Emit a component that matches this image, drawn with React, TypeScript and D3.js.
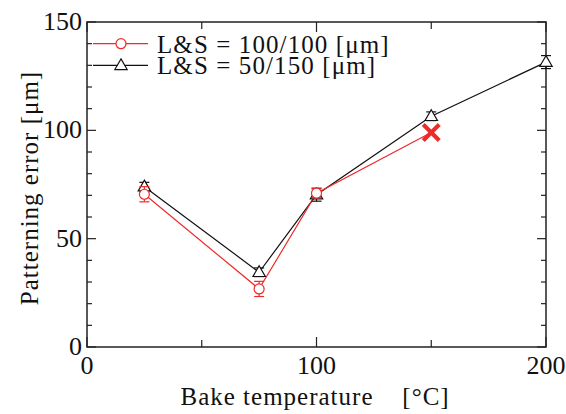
import React from "react";
import * as d3 from "d3";

const redX = [25, 75, 100];
const redY = [70.5, 26.8, 71];
const redErr = [3.5, 3.5, 2];
const redCross = { x: 150, y: 99 };
const blackX = [25, 75, 100, 150, 200];
const blackY = [74, 34.5, 70.3, 106.5, 131.5];
const blackErr = [2, 2, 3, 2, 3];
const xTicks = [0, 100, 200];
const xMinor = [50, 150];
const yTicks = [0, 50, 100, 150];
const yMinor = d3.range(0, 151, 10);
const legendLabels = ["L&S = 100/100 [\u03bcm]", "L&S = 50/150 [\u03bcm]"];

const W = 566, H = 414;
const L = 87, R = 546, T = 22, B = 347;
const RED = "#ee2b2b";
const FONT = "'Liberation Serif', 'Times New Roman', serif";
const FS = 25;

export default function App() {
  const x = d3.scaleLinear().domain([0, 200]).range([L, R]);
  const y = d3.scaleLinear().domain([0, 150]).range([B, T]);
  const line = d3.line<[number, number]>().x(d => x(d[0])).y(d => y(d[1]));
  const redPts: [number, number][] = redX.map((v, i) => [v, redY[i]] as [number, number]).concat([[redCross.x, redCross.y]]);
  const blackPts: [number, number][] = blackX.map((v, i) => [v, blackY[i]] as [number, number]);
  const tri = (cx: number, cy: number, s = 6.5) =>
    `M${cx},${cy - s}L${cx + s * 0.95},${cy + s * 0.65}L${cx - s * 0.95},${cy + s * 0.65}Z`;
  const axisColor = "#222";
  return (
    <svg width={W} height={H} style={{ position: "fixed", left: 0, top: 0, display: "block", background: "#fff" }} fontFamily={FONT}>
      <rect x={L} y={T} width={R - L} height={B - T} fill="none" stroke={axisColor} strokeWidth={1.5} />
      {yMinor.map(v => {
        const major = v % 50 === 0;
        const len = major ? 9 : 5;
        return (
          <g key={"y" + v}>
            <line x1={L} x2={L + len} y1={y(v)} y2={y(v)} stroke={axisColor} strokeWidth={1.2} />
            <line x1={R} x2={R - len} y1={y(v)} y2={y(v)} stroke={axisColor} strokeWidth={1.2} />
          </g>
        );
      })}
      {xTicks.concat(xMinor).map(v => {
        const major = v % 100 === 0;
        const len = major ? 10 : 7;
        return (
          <g key={"x" + v}>
            <line x1={x(v)} x2={x(v)} y1={B} y2={B - len} stroke={axisColor} strokeWidth={1.2} />
            <line x1={x(v)} x2={x(v)} y1={T} y2={T + len} stroke={axisColor} strokeWidth={1.2} />
          </g>
        );
      })}
      {yTicks.map(v => (
        <text key={"yl" + v} x={L - 5} y={y(v) + 8} textAnchor="end" fontSize={FS + 1} fill="#111">{v}</text>
      ))}
      {xTicks.map(v => (
        <text key={"xl" + v} x={x(v)} y={B + 27} textAnchor="middle" fontSize={FS + 1} fill="#111">{v}</text>
      ))}
      <text x={277} y={405} textAnchor="middle" fontSize={FS} letterSpacing={1} fill="#111">Bake temperature</text>
      <text x={426} y={405} textAnchor="middle" fontSize={FS} letterSpacing={1} fill="#111">[°C]</text>
      <text transform={`translate(38,188) rotate(-90)`} textAnchor="middle" fontSize={FS} letterSpacing={1} fill="#111">
        Patterning error [μm]
      </text>
      <path d={line(blackPts) || ""} fill="none" stroke="#111" strokeWidth={1.2} />
      <path d={line(redPts) || ""} fill="none" stroke={RED} strokeWidth={1.2} />
      {blackPts.map((p, i) => (
        <g key={"be" + i} stroke="#111" strokeWidth={1.2}>
          <line x1={x(p[0])} x2={x(p[0])} y1={y(p[1] - blackErr[i])} y2={y(p[1] + blackErr[i])} />
          <line x1={x(p[0]) - 5} x2={x(p[0]) + 5} y1={y(p[1] - blackErr[i])} y2={y(p[1] - blackErr[i])} />
          <line x1={x(p[0]) - 5} x2={x(p[0]) + 5} y1={y(p[1] + blackErr[i])} y2={y(p[1] + blackErr[i])} />
        </g>
      ))}
      {blackPts.map((p, i) => (
        <path key={"bt" + i} d={tri(x(p[0]), y(p[1]))} fill="#fff" stroke="#111" strokeWidth={1.2} />
      ))}
      {redX.map((v, i) => (
        <g key={"re" + i} stroke={RED} strokeWidth={1.2}>
          <line x1={x(v)} x2={x(v)} y1={y(redY[i] - redErr[i])} y2={y(redY[i] + redErr[i])} />
          <line x1={x(v) - 5} x2={x(v) + 5} y1={y(redY[i] - redErr[i])} y2={y(redY[i] - redErr[i])} />
          <line x1={x(v) - 5} x2={x(v) + 5} y1={y(redY[i] + redErr[i])} y2={y(redY[i] + redErr[i])} />
        </g>
      ))}
      {redX.map((v, i) => (
        <circle key={"rc" + i} cx={x(v)} cy={y(redY[i])} r={5} fill="#fff" stroke={RED} strokeWidth={1.2} />
      ))}
      <g stroke={RED} strokeWidth={4}>
        <line x1={x(redCross.x) - 8} x2={x(redCross.x) + 8} y1={y(redCross.y) - 8} y2={y(redCross.y) + 8} />
        <line x1={x(redCross.x) - 8} x2={x(redCross.x) + 8} y1={y(redCross.y) + 8} y2={y(redCross.y) - 8} />
      </g>
      <g>
        <line x1={93} x2={148} y1={y(140)} y2={y(140)} stroke={RED} strokeWidth={1.2} />
        <circle cx={121} cy={y(140)} r={5} fill="#fff" stroke={RED} strokeWidth={1.2} />
        <text x={157} y={y(140) + 9} fontSize={FS} letterSpacing={1.1} fill="#111">{legendLabels[0]}</text>
        <line x1={93} x2={148} y1={y(130)} y2={y(130)} stroke="#111" strokeWidth={1.2} />
        <path d={tri(121, y(130))} fill="#fff" stroke="#111" strokeWidth={1.2} />
        <text x={157} y={y(130) + 9} fontSize={FS} letterSpacing={1.1} fill="#111">{legendLabels[1]}</text>
      </g>
    </svg>
  );
}
